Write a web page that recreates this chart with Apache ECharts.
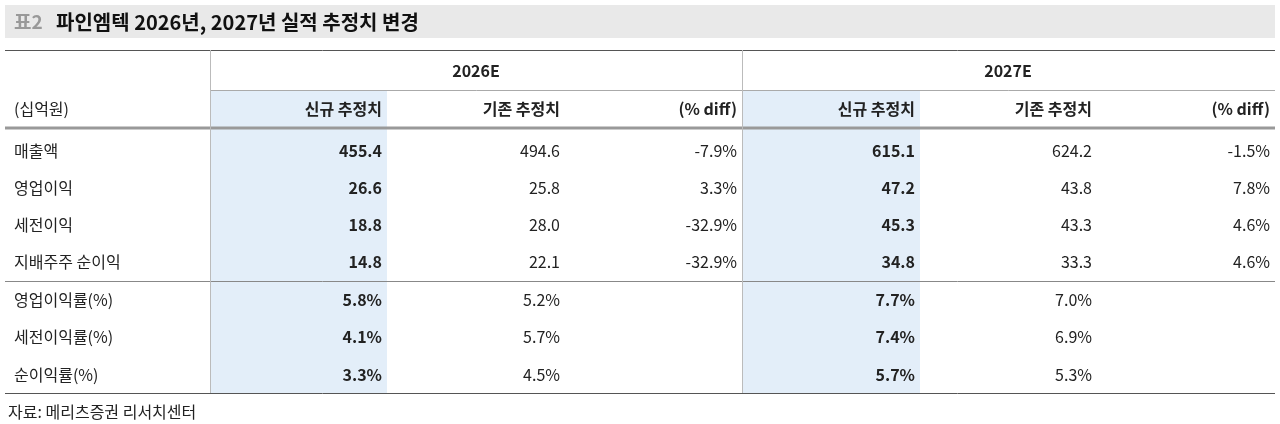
<!DOCTYPE html>
<html><head><meta charset="utf-8">
<script src="https://cdn.jsdelivr.net/npm/echarts@6/dist/echarts.min.js"></script>
<style>html,body{margin:0;padding:0;background:#fff}#c{width:1280px;height:424px}</style>
</head><body><div id="c"></div>
<script>
const years = ['2026E', '2027E'];
const subHeaders = ['신규 추정치', '기존 추정치', '(% diff)'];
const rowLabels = ['매출액', '영업이익', '세전이익', '지배주주 순이익', '영업이익률(%)', '세전이익률(%)', '순이익률(%)'];
const new2026 = ['455.4', '26.6', '18.8', '14.8', '5.8%', '4.1%', '3.3%'];
const old2026 = ['494.6', '25.8', '28.0', '22.1', '5.2%', '5.7%', '4.5%'];
const diff2026 = ['-7.9%', '3.3%', '-32.9%', '-32.9%', '', '', ''];
const new2027 = ['615.1', '47.2', '45.3', '34.8', '7.7%', '7.4%', '5.7%'];
const old2027 = ['624.2', '43.8', '43.3', '33.3', '7.0%', '6.9%', '5.3%'];
const diff2027 = ['-1.5%', '7.8%', '4.6%', '4.6%', '', '', ''];

const colEdges = [10, 210, 387, 565, 742, 920, 1097, 1275];
const rowCenters = [151, 188, 225, 262, 300, 337, 375];
const F = '"Noto Sans CJK KR", "Noto Sans", sans-serif';

const chart = echarts.init(document.getElementById('c'));
function txt(api, x, y, s, align, bold) {
  const p = api.coord([x, y]);
  return {type: 'text', style: {x: p[0], y: p[1], text: s, align: align, verticalAlign: 'middle',
    font: (bold ? 'bold ' : '') + '16px ' + F, fill: '#222'}};
}
function line(api, x1, y1, x2, y2, color, w) {
  const a = api.coord([x1, y1]), b = api.coord([x2, y2]);
  return {type: 'line', shape: {x1: a[0], y1: a[1], x2: b[0], y2: b[1]}, style: {stroke: color, lineWidth: w}};
}
function rect(api, x1, y1, x2, y2, color) {
  const a = api.coord([x1, y1]), b = api.coord([x2, y2]);
  return {type: 'rect', shape: {x: a[0], y: a[1], width: b[0] - a[0], height: b[1] - a[1]}, style: {fill: color}};
}
chart.setOption({
  animation: false,
  grid: {left: 0, right: 0, top: 0, bottom: 0},
  xAxis: {type: 'value', min: 0, max: 1280, show: false},
  yAxis: {type: 'value', min: 0, max: 424, inverse: true, show: false},
  series: [
    {type: 'custom', data: [0], renderItem: function (params, api) {
      const ch = [];
      ch.push(rect(api, 5, 5, 1275, 38, '#e9e9e9'));
      ch.push(rect(api, colEdges[1], 90, colEdges[2], 393, '#e3eef9'));
      ch.push(rect(api, colEdges[4], 90, colEdges[5], 393, '#e3eef9'));
      ch.push(line(api, 5, 50.5, 1275, 50.5, '#555', 1));
      ch.push(line(api, colEdges[1], 90.5, 1275, 90.5, '#aaa', 1));
      ch.push(line(api, 5, 128, 1275, 128, '#999', 3));
      ch.push(line(api, 5, 281.5, 1275, 281.5, '#888', 1));
      ch.push(line(api, 5, 393.5, 1275, 393.5, '#555', 1));
      ch.push(line(api, colEdges[1] + 0.5, 50, colEdges[1] + 0.5, 393, '#bbb', 1));
      ch.push(line(api, colEdges[4] + 0.5, 50, colEdges[4] + 0.5, 393, '#bbb', 1));
      ch.push(txt(api, 476, 71, years[0], 'center', true));
      ch.push(txt(api, 1008, 71, years[1], 'center', true));
      ch.push(txt(api, 14, 109, '(십억원)', 'left', false));
      for (let k = 0; k < 6; k++) {
        ch.push(txt(api, colEdges[k + 2] - 5, 109, subHeaders[k % 3], 'right', true));
      }
      const t1 = api.coord([14, 22]);
      ch.push({type: 'text', style: {x: t1[0], y: t1[1], text: '표2', verticalAlign: 'middle', font: 'bold 19px ' + F, fill: '#999'}});
      const t2 = api.coord([56, 22]);
      ch.push({type: 'text', style: {x: t2[0], y: t2[1], text: '파인엠텍 2026년, 2027년 실적 추정치 변경', verticalAlign: 'middle', font: 'bold 20px ' + F, fill: '#111'}});
      ch.push(txt(api, 8, 412, '자료: 메리츠증권 리서치센터', 'left', false));
      return {type: 'group', children: ch};
    }},
    {type: 'custom', data: rowLabels.map((r, i) => i), renderItem: function (params, api) {
      const i = api.value(0), y = rowCenters[i];
      const cols = [new2026, old2026, diff2026, new2027, old2027, diff2027];
      const ch = [txt(api, 14, y, rowLabels[i], 'left', false)];
      cols.forEach((c, k) => ch.push(txt(api, colEdges[k + 2] - 5, y, c[i], 'right', k % 3 === 0)));
      return {type: 'group', children: ch};
    }}
  ]
});
</script></body></html>
